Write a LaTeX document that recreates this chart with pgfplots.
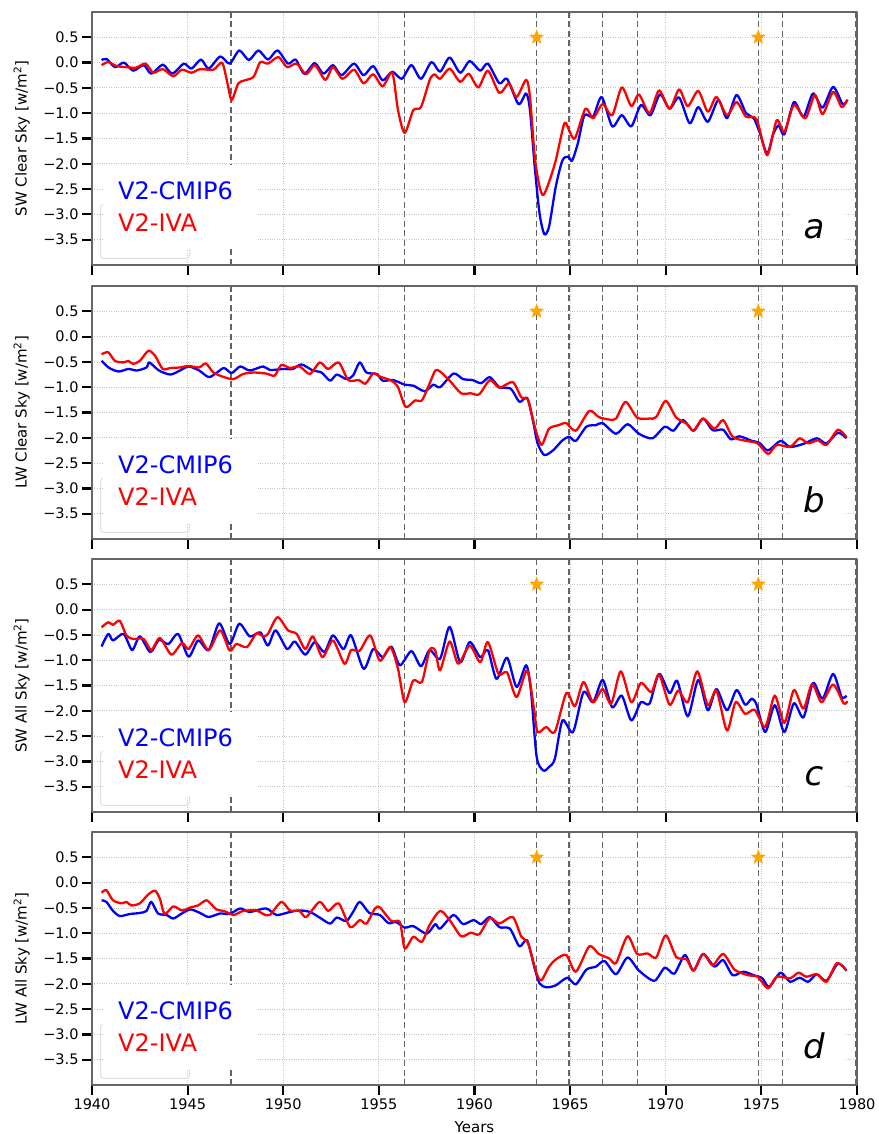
\documentclass[border=0pt]{standalone}
\usepackage{fontspec}
\setmainfont{DejaVu Sans}
\usepackage{pgfplots}
\pgfplotsset{compat=1.18}
\usetikzlibrary{shapes.geometric}

\definecolor{starorange}{RGB}{255,165,0}
\definecolor{vgray}{RGB}{100,100,100}

\pgfplotsset{
  panel/.style={
    scale only axis, width=765pt, height=253pt, anchor=north west,
    xmin=1940, xmax=1980, ymin=-4, ymax=1,
    xtick={1940,1945,...,1980},
    ytick={-3.5,-3,...,0.5},
    yticklabels={−3.5,−3.0,−2.5,−2.0,−1.5,−1.0,−0.5,0.0,0.5},
    xtick pos=bottom, ytick pos=left, tick align=outside,
    major tick length=10pt,
    tick style={black, line width=2.2pt},
    grid=major, major grid style={gray!45, dotted, line width=0.8pt},
    axis line style={black!60, line width=1.2pt},
    ticklabel style={font=\fontsize{14.5}{16}\selectfont},
    label style={font=\fontsize{15}{18}\selectfont},
    ylabel style={at={(axis description cs:-0.092,0.5)}, anchor=center},
    xlabel style={at={(axis description cs:0.5,-0.165)}, anchor=center},
    line join=round,
  },
  cmip/.style={blue, line width=2.3pt, smooth, tension=0.45, mark=none},
  iva/.style={red, line width=2.3pt, smooth, tension=0.45, mark=none},
}

\newcommand{\decor}[1]{%
  \pgfplotsinvokeforeach{1947.27,1956.35,1963.25,1964.93,1966.68,1968.53,1974.84,1976.1,1979.95}
    {\draw[vgray, line width=1.5pt, dash pattern=on 6pt off 3.5pt] (axis cs:##1,-4) -- (axis cs:##1,1);}
  \draw[gray!25, line width=1pt, rounded corners=3pt] (axis cs:1940.45,-3.87) rectangle (axis cs:1945.1,-2.8);
  \fill[white] (axis cs:1940.55,-2.03) rectangle (axis cs:1948.55,-3.68);
  \fill[white] (axis cs:1976.45,-2.62) rectangle (axis cs:1979.3,-3.95);
  \node[anchor=base west, inner sep=0, text=blue, font=\fontsize{24}{28}\selectfont] at (axis cs:1941.36,-2.70) {V2-CMIP6};
  \node[anchor=base west, inner sep=0, text=red, font=\fontsize{24}{28}\selectfont] at (axis cs:1941.36,-3.33) {V2-IVA};
  \node[anchor=base, inner sep=0, font=\fontsize{34}{40}\selectfont\itshape] at (axis cs:1977.75,-3.47) {#1};
}
\newcommand{\stars}{%
  \addplot[only marks, mark=none, nodes near coords={},
    every node near coord/.style={anchor=center, star, star points=5, star point ratio=2.4,
      fill=starorange, draw=none, inner sep=0pt, minimum size=16pt}]
    coordinates {(1963.25,0.5)(1974.84,0.5)};
}

\begin{document}
\begin{tikzpicture}
\path[use as bounding box] (0,0) rectangle (878pt,-1134pt);

% ---------------- a: SW clear sky
\begin{axis}[panel, at={(92pt,-12pt)}, xticklabels={}, ylabel={SW Clear Sky [w/m\textsuperscript{2}]}]
\decor{a}
\addplot[cmip] coordinates {(1940.5,0.05)(1940.77,0.07)(1941.2,-0.09)(1941.67,0.0)(1942.15,-0.16)(1942.7,-0.05)(1943.1,-0.22)(1943.7,-0.04)(1944.2,-0.22)(1944.8,-0.02)(1945.2,-0.12)(1945.7,0.06)(1946.1,-0.12)(1946.7,0.12)(1947.2,-0.02)(1947.7,0.24)(1948.2,0.05)(1948.7,0.24)(1949.2,0.06)(1949.7,0.24)(1950.25,-0.02)(1950.65,0.06)(1951.1,-0.22)(1951.65,-0.01)(1952.1,-0.22)(1952.6,-0.05)(1953.05,-0.25)(1953.7,-0.02)(1954.2,-0.25)(1954.7,-0.07)(1955.2,-0.35)(1955.7,-0.18)(1956.2,-0.32)(1956.7,-0.05)(1957.2,-0.32)(1957.75,0.01)(1958.2,-0.18)(1958.7,0.10)(1959.25,-0.2)(1959.75,0.03)(1960.3,-0.16)(1960.7,-0.02)(1961.3,-0.41)(1961.7,-0.32)(1962.3,-0.82)(1962.7,-0.61)(1962.9,-0.94)(1963.15,-2.06)(1963.4,-2.98)(1963.65,-3.39)(1963.9,-3.24)(1964.25,-2.45)(1964.6,-1.93)(1964.9,-1.86)(1965.1,-1.94)(1965.4,-1.6)(1965.75,-1.04)(1966.2,-1.07)(1966.65,-0.68)(1967.2,-1.26)(1967.7,-1.04)(1968.2,-1.26)(1968.7,-0.84)(1969.2,-1.04)(1969.7,-0.63)(1970.2,-0.91)(1970.7,-0.69)(1971.25,-1.2)(1971.7,-0.88)(1972.2,-1.17)(1972.75,-0.74)(1973.2,-1.1)(1973.7,-0.64)(1974.2,-1.0)(1974.6,-1.1)(1974.9,-1.37)(1975.3,-1.8)(1975.6,-1.43)(1975.9,-1.24)(1976.2,-1.42)(1976.7,-0.78)(1977.2,-1.07)(1977.7,-0.61)(1978.2,-0.89)(1978.75,-0.48)(1979.25,-0.82)(1979.5,-0.74)};
\addplot[iva] coordinates {(1940.5,-0.05)(1940.85,0.01)(1941.3,-0.07)(1941.8,-0.09)(1942.3,-0.1)(1942.8,-0.02)(1943.2,-0.2)(1943.7,-0.13)(1944.25,-0.27)(1944.7,-0.14)(1945.2,-0.2)(1945.65,-0.13)(1946.35,-0.14)(1946.8,0.0)(1947.05,-0.35)(1947.3,-0.74)(1947.65,-0.41)(1948.0,-0.35)(1948.45,-0.28)(1948.8,0.01)(1949.2,-0.02)(1949.75,0.11)(1950.2,-0.09)(1950.7,-0.02)(1951.2,-0.23)(1951.65,-0.05)(1952.2,-0.34)(1952.6,-0.09)(1953.1,-0.32)(1953.7,-0.14)(1954.2,-0.41)(1954.7,-0.23)(1955.2,-0.47)(1955.7,-0.2)(1956.0,-0.94)(1956.35,-1.39)(1956.8,-0.94)(1957.2,-0.88)(1957.65,-0.35)(1957.9,-0.23)(1958.2,-0.32)(1958.7,-0.12)(1959.25,-0.38)(1959.7,-0.22)(1960.2,-0.49)(1960.7,-0.16)(1961.3,-0.6)(1961.8,-0.41)(1962.2,-0.68)(1962.7,-0.34)(1962.9,-0.68)(1963.15,-1.86)(1963.4,-2.45)(1963.6,-2.62)(1963.9,-2.36)(1964.25,-1.93)(1964.7,-1.2)(1964.95,-1.34)(1965.25,-1.5)(1965.8,-0.91)(1966.2,-1.1)(1966.7,-0.82)(1967.2,-1.04)(1967.7,-0.49)(1968.2,-0.86)(1968.6,-0.63)(1969.15,-1.0)(1969.65,-0.55)(1970.2,-0.91)(1970.7,-0.53)(1971.15,-0.86)(1971.7,-0.56)(1972.2,-0.97)(1972.65,-0.68)(1973.2,-1.04)(1973.7,-0.78)(1974.2,-1.07)(1974.75,-1.12)(1975.3,-1.83)(1975.8,-1.14)(1976.2,-1.37)(1976.7,-0.84)(1977.3,-1.1)(1977.8,-0.64)(1978.2,-1.02)(1978.75,-0.58)(1979.2,-0.88)(1979.5,-0.73)};
\stars
\end{axis}

% ---------------- b: LW clear sky
\begin{axis}[panel, at={(92pt,-286pt)}, xticklabels={}, ylabel={LW Clear Sky [w/m\textsuperscript{2}]}]
\decor{b}
\addplot[cmip] coordinates {(1940.5,-0.48)(1940.9,-0.62)(1941.4,-0.69)(1941.9,-0.64)(1942.35,-0.67)(1942.85,-0.61)(1943.0,-0.51)(1943.5,-0.67)(1944.1,-0.75)(1944.6,-0.67)(1945.05,-0.59)(1945.6,-0.67)(1946.1,-0.8)(1946.5,-0.72)(1946.9,-0.62)(1947.3,-0.72)(1947.75,-0.59)(1948.25,-0.67)(1948.95,-0.59)(1949.3,-0.66)(1950.0,-0.64)(1950.5,-0.64)(1950.95,-0.55)(1951.55,-0.67)(1952.0,-0.71)(1952.45,-0.87)(1952.8,-0.75)(1953.3,-0.84)(1953.65,-0.77)(1954.0,-0.51)(1954.35,-0.71)(1954.9,-0.74)(1955.2,-0.87)(1955.75,-0.86)(1956.35,-0.95)(1956.8,-0.97)(1957.4,-1.08)(1957.85,-0.95)(1958.2,-1.0)(1958.9,-0.73)(1959.4,-0.84)(1959.9,-0.86)(1960.35,-0.92)(1960.8,-0.8)(1961.3,-1.0)(1961.9,-1.03)(1962.35,-1.29)(1962.75,-1.21)(1963.05,-1.65)(1963.3,-2.11)(1963.65,-2.34)(1964.1,-2.25)(1964.6,-2.05)(1964.95,-1.98)(1965.3,-2.06)(1965.85,-1.78)(1966.35,-1.75)(1966.7,-1.71)(1967.4,-1.92)(1968.0,-1.73)(1968.6,-1.92)(1969.3,-2.01)(1969.95,-1.78)(1970.4,-1.86)(1970.9,-1.65)(1971.45,-1.86)(1971.95,-1.62)(1972.45,-1.85)(1973.0,-1.84)(1973.4,-2.03)(1973.85,-1.97)(1974.5,-2.06)(1974.9,-2.1)(1975.35,-2.25)(1976.0,-2.06)(1976.5,-2.18)(1977.2,-2.12)(1977.9,-2.01)(1978.4,-2.11)(1979.0,-1.9)(1979.45,-2.01)};
\addplot[iva] coordinates {(1940.5,-0.35)(1940.85,-0.31)(1941.2,-0.48)(1941.65,-0.51)(1941.9,-0.48)(1942.15,-0.54)(1942.5,-0.48)(1942.95,-0.28)(1943.3,-0.38)(1943.7,-0.64)(1944.1,-0.62)(1944.6,-0.61)(1945.05,-0.58)(1945.6,-0.61)(1945.95,-0.53)(1946.35,-0.71)(1946.9,-0.8)(1947.4,-0.84)(1947.9,-0.74)(1948.45,-0.71)(1949.1,-0.73)(1949.55,-0.77)(1949.9,-0.56)(1950.35,-0.62)(1950.85,-0.59)(1951.4,-0.74)(1951.9,-0.51)(1952.35,-0.64)(1952.9,-0.51)(1953.4,-0.86)(1953.95,-0.86)(1954.3,-0.93)(1954.7,-0.73)(1955.05,-0.79)(1955.65,-0.87)(1956.0,-1.0)(1956.4,-1.39)(1956.9,-1.26)(1957.25,-1.26)(1957.65,-0.93)(1957.95,-0.67)(1958.2,-0.69)(1958.7,-0.87)(1959.3,-1.12)(1959.8,-1.12)(1960.25,-1.14)(1960.8,-0.86)(1961.3,-1.01)(1962.0,-0.9)(1962.45,-1.2)(1962.8,-1.25)(1963.15,-1.78)(1963.5,-2.14)(1963.9,-1.82)(1964.4,-1.75)(1964.8,-1.71)(1965.3,-1.86)(1966.0,-1.47)(1966.5,-1.59)(1967.05,-1.64)(1967.4,-1.62)(1967.9,-1.29)(1968.5,-1.6)(1969.15,-1.62)(1969.5,-1.59)(1970.0,-1.27)(1970.55,-1.6)(1971.1,-1.72)(1971.45,-1.86)(1971.95,-1.62)(1972.55,-1.82)(1973.0,-1.65)(1973.5,-1.98)(1974.2,-2.06)(1974.8,-2.11)(1975.35,-2.32)(1975.8,-2.14)(1976.5,-2.18)(1977.0,-2.01)(1977.45,-2.11)(1977.95,-2.05)(1978.4,-2.14)(1979.0,-1.84)(1979.45,-1.99)};
\stars
\end{axis}

% ---------------- c: SW all sky
\begin{axis}[panel, at={(92pt,-559pt)}, xticklabels={}, ylabel={SW All Sky [w/m\textsuperscript{2}]}]
\decor{c}
\addplot[cmip] coordinates {(1940.5,-0.73)(1940.85,-0.48)(1941.1,-0.61)(1941.65,-0.48)(1942.1,-0.8)(1942.5,-0.53)(1943.05,-0.84)(1943.5,-0.6)(1944.0,-0.68)(1944.5,-0.48)(1945.05,-0.93)(1945.55,-0.61)(1946.1,-0.8)(1946.65,-0.27)(1947.2,-0.68)(1947.7,-0.28)(1948.25,-0.53)(1948.8,-0.45)(1949.2,-0.71)(1949.6,-0.41)(1950.2,-0.78)(1950.6,-0.63)(1951.15,-0.89)(1951.65,-0.64)(1952.15,-0.84)(1952.6,-0.51)(1953.15,-0.78)(1953.55,-0.51)(1954.2,-1.17)(1954.7,-0.78)(1955.2,-0.94)(1955.65,-0.73)(1956.1,-1.1)(1956.7,-0.82)(1957.2,-1.12)(1957.65,-0.8)(1958.2,-0.97)(1958.7,-0.34)(1959.25,-1.04)(1959.75,-0.64)(1960.3,-0.94)(1960.7,-0.8)(1961.15,-1.37)(1961.7,-0.95)(1962.2,-1.53)(1962.7,-1.1)(1962.95,-1.6)(1963.25,-2.91)(1963.6,-3.18)(1963.9,-3.11)(1964.2,-2.95)(1964.6,-2.19)(1965.15,-2.42)(1965.7,-1.63)(1966.2,-1.83)(1966.7,-1.39)(1967.2,-1.93)(1967.7,-1.7)(1968.2,-2.19)(1968.7,-1.83)(1969.15,-1.86)(1969.65,-1.27)(1970.2,-1.65)(1970.6,-1.41)(1971.15,-2.11)(1971.7,-1.39)(1972.2,-1.99)(1972.65,-1.57)(1973.2,-1.99)(1973.7,-1.59)(1974.15,-1.88)(1974.5,-1.76)(1974.75,-1.88)(1975.2,-2.42)(1975.7,-1.89)(1976.2,-2.42)(1976.7,-1.85)(1977.2,-2.13)(1977.7,-1.45)(1978.2,-1.76)(1978.75,-1.27)(1979.2,-1.73)(1979.45,-1.7)};
\addplot[iva] coordinates {(1940.5,-0.35)(1940.85,-0.25)(1941.1,-0.3)(1941.45,-0.22)(1941.8,-0.51)(1942.15,-0.58)(1942.7,-0.58)(1943.1,-0.8)(1943.55,-0.56)(1944.15,-0.89)(1944.7,-0.66)(1945.05,-0.78)(1945.55,-0.51)(1946.1,-0.8)(1946.7,-0.41)(1947.2,-0.81)(1947.55,-0.68)(1948.1,-0.74)(1948.6,-0.47)(1948.95,-0.53)(1949.2,-0.48)(1949.7,-0.15)(1950.25,-0.41)(1950.7,-0.48)(1951.15,-0.78)(1951.55,-0.53)(1952.05,-0.94)(1952.6,-0.61)(1953.2,-1.07)(1953.55,-0.8)(1954.0,-0.81)(1954.55,-0.51)(1955.05,-1.01)(1955.6,-0.74)(1956.0,-1.17)(1956.35,-1.83)(1956.8,-1.4)(1957.25,-1.43)(1957.65,-0.8)(1957.95,-0.81)(1958.2,-1.2)(1958.7,-0.63)(1959.15,-1.07)(1959.75,-0.71)(1960.3,-1.04)(1960.7,-0.64)(1961.25,-1.27)(1961.7,-1.24)(1962.2,-1.73)(1962.75,-1.2)(1963.1,-1.93)(1963.3,-2.42)(1963.75,-2.32)(1964.2,-2.42)(1964.8,-1.65)(1965.25,-1.91)(1965.7,-1.43)(1966.2,-1.83)(1966.7,-1.57)(1967.15,-1.86)(1967.65,-1.22)(1968.2,-1.83)(1968.7,-1.45)(1969.25,-1.63)(1969.65,-1.28)(1970.2,-1.88)(1970.65,-1.6)(1971.15,-1.83)(1971.65,-1.22)(1972.2,-1.89)(1972.65,-1.6)(1973.2,-2.39)(1973.65,-1.83)(1974.15,-2.06)(1974.65,-1.98)(1975.2,-2.32)(1975.7,-1.7)(1976.2,-2.24)(1976.7,-1.59)(1977.2,-1.96)(1977.65,-1.47)(1978.15,-1.83)(1978.75,-1.48)(1979.3,-1.85)(1979.5,-1.81)};
\stars
\end{axis}

% ---------------- d: LW all sky
\begin{axis}[panel, at={(92pt,-832pt)}, xticklabels={1940,1945,1950,1955,1960,1965,1970,1975,1980}, xlabel={Years}, ylabel={LW All Sky [w/m\textsuperscript{2}]}]
\decor{d}
\addplot[cmip] coordinates {(1940.5,-0.35)(1940.75,-0.38)(1941.1,-0.56)(1941.45,-0.66)(1942.0,-0.62)(1942.5,-0.6)(1942.85,-0.56)(1943.1,-0.38)(1943.45,-0.61)(1943.9,-0.64)(1944.25,-0.71)(1944.7,-0.61)(1945.15,-0.53)(1945.65,-0.6)(1946.1,-0.68)(1946.7,-0.61)(1947.2,-0.62)(1947.75,-0.51)(1948.25,-0.58)(1949.1,-0.51)(1949.65,-0.64)(1950.35,-0.58)(1950.85,-0.55)(1951.4,-0.58)(1951.9,-0.69)(1952.45,-0.81)(1952.8,-0.69)(1953.3,-0.76)(1953.65,-0.58)(1954.0,-0.38)(1954.5,-0.6)(1955.05,-0.64)(1955.5,-0.8)(1955.9,-0.78)(1956.35,-0.89)(1956.8,-0.86)(1957.5,-1.01)(1957.95,-0.82)(1958.2,-0.91)(1958.9,-0.64)(1959.4,-0.82)(1959.95,-0.74)(1960.35,-0.82)(1960.8,-0.68)(1961.3,-0.88)(1961.85,-0.91)(1962.35,-1.26)(1962.75,-1.14)(1963.15,-1.7)(1963.4,-1.99)(1963.75,-2.07)(1964.25,-2.03)(1964.85,-1.88)(1965.3,-2.01)(1965.85,-1.72)(1966.35,-1.66)(1966.8,-1.55)(1967.4,-1.81)(1968.0,-1.48)(1968.6,-1.74)(1969.4,-1.94)(1969.95,-1.68)(1970.45,-1.8)(1971.0,-1.43)(1971.45,-1.74)(1971.95,-1.41)(1972.55,-1.66)(1973.0,-1.53)(1973.5,-1.83)(1974.05,-1.76)(1974.6,-1.83)(1975.05,-1.89)(1975.4,-2.06)(1976.0,-1.78)(1976.5,-1.96)(1977.0,-1.88)(1977.45,-1.96)(1977.9,-1.81)(1978.4,-1.94)(1979.0,-1.6)(1979.45,-1.74)};
\addplot[iva] coordinates {(1940.5,-0.2)(1940.75,-0.15)(1941.1,-0.35)(1941.55,-0.41)(1941.8,-0.38)(1942.05,-0.45)(1942.5,-0.41)(1942.95,-0.23)(1943.3,-0.16)(1943.55,-0.32)(1943.8,-0.62)(1944.25,-0.47)(1944.7,-0.55)(1945.15,-0.49)(1945.55,-0.45)(1946.0,-0.35)(1946.5,-0.53)(1946.9,-0.56)(1947.4,-0.64)(1947.9,-0.56)(1948.6,-0.55)(1948.95,-0.62)(1949.3,-0.64)(1949.9,-0.38)(1950.35,-0.55)(1950.85,-0.56)(1951.2,-0.68)(1951.9,-0.38)(1952.35,-0.56)(1952.9,-0.41)(1953.5,-0.88)(1954.0,-0.74)(1954.35,-0.81)(1954.8,-0.51)(1955.05,-0.49)(1955.65,-0.76)(1956.1,-0.78)(1956.35,-1.3)(1956.8,-1.07)(1957.25,-1.17)(1957.65,-0.84)(1958.2,-0.56)(1958.7,-0.74)(1959.3,-1.06)(1959.8,-0.99)(1960.25,-1.02)(1960.8,-0.7)(1961.3,-0.81)(1962.0,-0.68)(1962.45,-1.07)(1962.8,-1.2)(1963.25,-1.8)(1963.5,-1.93)(1963.9,-1.66)(1964.25,-1.52)(1964.8,-1.43)(1965.3,-1.76)(1966.0,-1.26)(1966.5,-1.41)(1967.05,-1.5)(1967.4,-1.59)(1968.0,-1.06)(1968.5,-1.41)(1969.05,-1.4)(1969.5,-1.48)(1970.0,-1.04)(1970.55,-1.47)(1971.1,-1.52)(1971.45,-1.74)(1971.95,-1.41)(1972.45,-1.63)(1973.0,-1.41)(1973.6,-1.72)(1974.3,-1.83)(1974.8,-1.86)(1975.35,-2.09)(1975.8,-1.86)(1976.5,-1.89)(1976.95,-1.78)(1977.35,-1.86)(1977.9,-1.81)(1978.4,-1.96)(1978.95,-1.59)(1979.45,-1.74)};
\stars
\end{axis}
\end{tikzpicture}
\end{document}
